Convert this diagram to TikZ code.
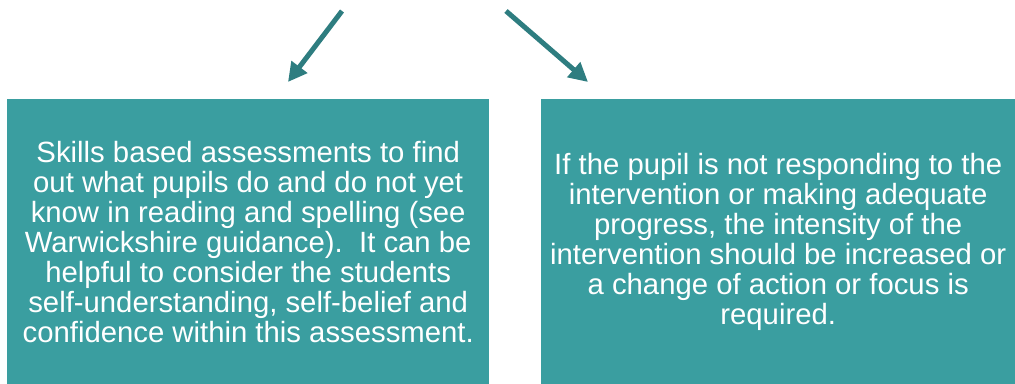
\documentclass[tikz,border=0pt]{standalone}
\usepackage{fontspec}
\setmainfont{Liberation Sans}
\usetikzlibrary{arrows.meta}
\definecolor{boxteal}{RGB}{58,158,160}
\definecolor{arrowteal}{RGB}{46,125,128}
\begin{document}
\begin{tikzpicture}[x=1pt,y=-1pt,
  infobox/.style={fill=boxteal, draw=none, anchor=north west, inner sep=0pt,
    text=white, align=center, font=\fontsize{29.3}{30}\selectfont},
  flowarrow/.style={draw=arrowteal, line width=5pt,
    -{Triangle[length=19pt,width=19pt]}}]
  \useasboundingbox (0,0) rectangle (1015,383);
  % two teal panels
  \node[infobox, minimum width=482pt, minimum height=286pt] (left) at (7,99)
    {Skills based assessments to find\\
     out what pupils do and do not yet\\
     know in reading and spelling (see\\
     Warwickshire guidance).\ \ It can be\\
     helpful to consider the students\\
     self-understanding, self-belief and\\
     confidence within this assessment.};
  \node[infobox, minimum width=474pt, minimum height=286pt] (right) at (541,99)
    {If the pupil is not responding to the\\
     intervention or making adequate\\
     progress, the intensity of the\\
     intervention should be increased or\\
     a change of action or focus is\\
     required.};
  % arrows leading down to each panel
  \coordinate (aLs) at (342,11);
  \coordinate (aLe) at (288,82);
  \coordinate (aRs) at (506,11);
  \coordinate (aRe) at (588,82);
  \draw[flowarrow] (aLs) -- (aLe);
  \draw[flowarrow] (aRs) -- (aRe);
\end{tikzpicture}
\end{document}
